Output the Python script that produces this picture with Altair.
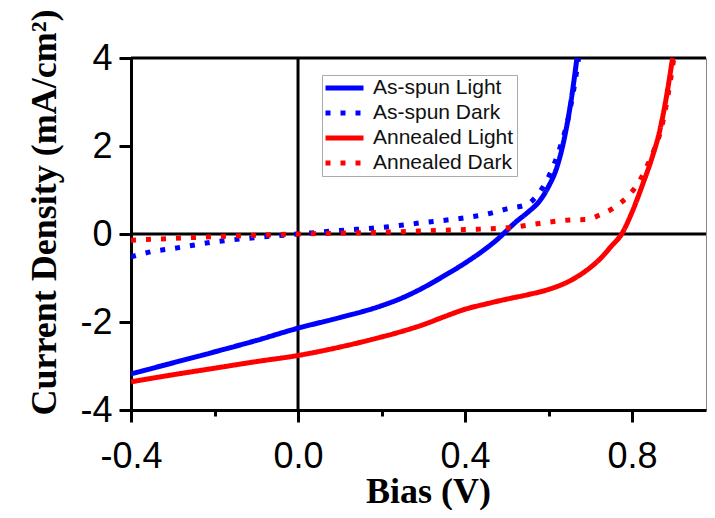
import altair as alt
import pandas as pd

series_names = ["As-spun Light", "As-spun Dark", "Annealed Light", "Annealed Dark"]
series_colors = ["#0000ff", "#0000ff", "#ff0000", "#ff0000"]
series_dashes = [[1, 0], [5, 10], [1, 0], [5, 10]]

asspun_light_x = [-0.4, -0.3, -0.2, -0.1, 0.0, 0.1, 0.2, 0.25, 0.3, 0.35, 0.4, 0.45, 0.48, 0.5, 0.52, 0.55, 0.58, 0.6, 0.62, 0.64, 0.655, 0.668]
asspun_light_y = [-3.18, -2.93, -2.68, -2.42, -2.14, -1.9, -1.63, -1.45, -1.22, -0.95, -0.66, -0.33, -0.1, 0.08, 0.26, 0.49, 0.77, 1.08, 1.52, 2.28, 3.1, 4.0]

asspun_dark_x = [-0.4, -0.35, -0.3, -0.2, -0.1, 0.0, 0.1, 0.2, 0.3, 0.4, 0.45, 0.5, 0.55, 0.57, 0.59, 0.605, 0.628, 0.648, 0.66, 0.672]
asspun_dark_y = [-0.52, -0.4, -0.33, -0.18, -0.08, 0.0, 0.08, 0.15, 0.26, 0.37, 0.45, 0.57, 0.68, 0.85, 1.12, 1.4, 1.98, 2.67, 3.27, 4.0]

annealed_light_x = [-0.4, -0.3, -0.2, -0.1, 0.0, 0.1, 0.2, 0.25, 0.3, 0.35, 0.4, 0.45, 0.5, 0.55, 0.6, 0.65, 0.7, 0.725, 0.75, 0.775, 0.8, 0.825, 0.85, 0.865, 0.88, 0.897]
annealed_light_y = [-3.36, -3.2, -3.05, -2.9, -2.76, -2.57, -2.34, -2.21, -2.06, -1.88, -1.71, -1.59, -1.48, -1.38, -1.26, -1.07, -0.76, -0.55, -0.28, 0.0, 0.5, 1.12, 1.8, 2.3, 3.0, 4.0]

annealed_dark_x = [-0.4, -0.3, -0.2, -0.1, 0.0, 0.1, 0.2, 0.3, 0.4, 0.5, 0.6, 0.65, 0.69, 0.72, 0.757, 0.79, 0.817, 0.835, 0.851, 0.87, 0.885, 0.9]
annealed_dark_y = [-0.14, -0.1, -0.06, -0.03, 0.0, 0.02, 0.04, 0.07, 0.1, 0.14, 0.27, 0.32, 0.33, 0.42, 0.6, 0.86, 1.19, 1.53, 1.87, 2.4, 3.1, 4.0]

x_ticks = [-0.4, -0.2, 0.0, 0.2, 0.4, 0.6, 0.8]
y_ticks = [-4, -2, 0, 2, 4]
x_domain = [-0.4, 0.977]
y_domain = [-4, 4]

rows = []
for name, xs, ys in [
    ("As-spun Light", asspun_light_x, asspun_light_y),
    ("As-spun Dark", asspun_dark_x, asspun_dark_y),
    ("Annealed Light", annealed_light_x, annealed_light_y),
    ("Annealed Dark", annealed_dark_x, annealed_dark_y),
]:
    for i, (a, b) in enumerate(zip(xs, ys)):
        rows.append({"series": name, "bias": a, "j": b, "order": i})
df = pd.DataFrame(rows)

x_scale = alt.Scale(domain=x_domain, nice=False, zero=False)
y_scale = alt.Scale(domain=y_domain, nice=False, zero=False)

x_axis = alt.Axis(
    values=x_ticks,
    title="Bias (V)",
    labelExpr="round(datum.value*10) % 4 == 0 ? replace(format(datum.value, '.1f'), '\u2212', '-') : ''",
    tickSize={"condition": {"test": "round(datum.value*10) % 4 != 0", "value": 6}, "value": 12},
    labelBaseline="alphabetic",
    labelPadding=45,
    labelFlush=False,
    labelOverlap=False,
    titleX=297,
    titleY=92,
    titleBaseline="alphabetic",
    titleAnchor="start",
    titleAlign="center",
)
y_axis = alt.Axis(
    values=y_ticks,
    title="Current Density (mA/cm²)",
    labelExpr="replace(datum.label, '\u2212', '-')",
    tickSize=12,
    labelPadding=7,
    titleX=-76,
    titleY=154,
    titleAngle=-90,
    titleBaseline="alphabetic",
    titleAlign="center",
)

legend = alt.Legend(
    title=None,
    orient="none",
    legendX=191,
    legendY=17,
    fillColor="white",
    strokeColor="#aaaaaa",
    padding=3,
    rowPadding=4,
    clipHeight=20,
    symbolType="stroke",
    symbolSize=1444,
    symbolStrokeWidth=5,
    symbolOffset=-2,
    labelFontSize=21,
    labelFont="Liberation Sans",
    labelColor="#111111",
    labelOffset=7,
)

lines = alt.Chart(df).mark_line(strokeWidth=5, clip=True, strokeCap="butt", interpolate="monotone").encode(
    x=alt.X("bias:Q", scale=x_scale, axis=x_axis),
    y=alt.Y("j:Q", scale=y_scale, axis=y_axis),
    color=alt.Color("series:N", scale=alt.Scale(domain=series_names, range=series_colors), legend=legend),
    strokeDash=alt.StrokeDash("series:N", scale=alt.Scale(domain=series_names, range=series_dashes), legend=legend),
    order="order:Q",
)

zero_x = alt.Chart(pd.DataFrame({"bias": [0.0]})).mark_rule(color="black", strokeWidth=3).encode(
    x=alt.X("bias:Q", scale=x_scale, axis=x_axis)
)
zero_y = alt.Chart(pd.DataFrame({"j": [0.0, 4.0]})).mark_rule(color="black", strokeWidth=3).encode(
    y=alt.Y("j:Q", scale=y_scale, axis=y_axis)
)

chart = alt.layer(zero_x, zero_y, lines).properties(
    width=575,
    height=352,
    padding={"left": 123, "top": 50, "right": 1, "bottom": 100},
    autosize=alt.AutoSizeParams(type="none"),
).configure_view(
    stroke="#888888", strokeWidth=1
).configure_axis(
    domainColor="black",
    domainWidth=3,
    tickColor="black",
    tickWidth=3,
    grid=False,
    labelFont="Liberation Sans",
    labelFontSize=36,
    labelColor="black",
    titleFont="Liberation Serif",
    titleFontSize=36,
    titleFontWeight="bold",
    titleColor="black",
)

chart.save("out.html", embed_options={"renderer": "svg", "actions": False})
